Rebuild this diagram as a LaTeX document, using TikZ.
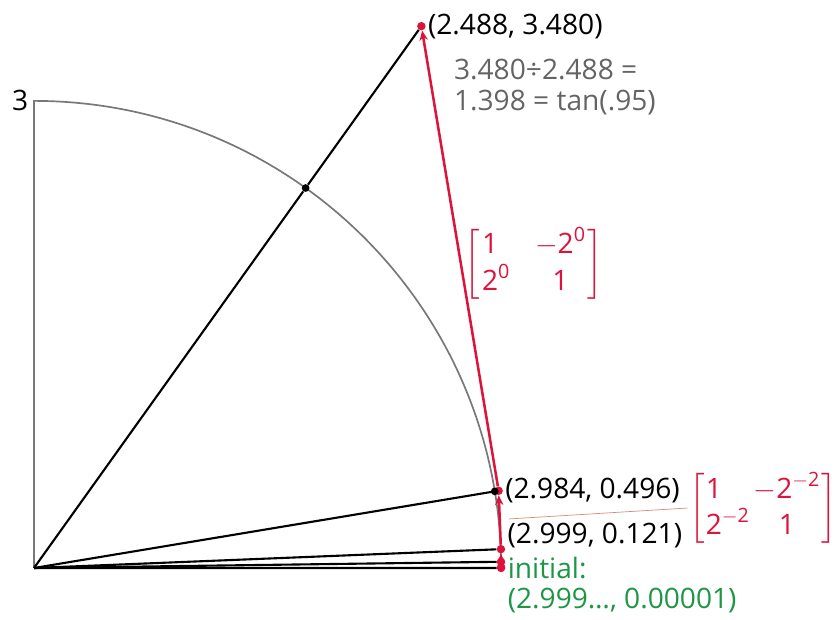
\documentclass[tikz,border=0pt]{standalone}
\usepackage{amsmath}
\usepackage{fontspec}
\setmainfont{Open Sans}
\usepackage{tikz}
\usetikzlibrary{arrows.meta}

\definecolor{rotred}{RGB}{220,20,60}
\definecolor{rotgreen}{RGB}{30,150,70}
\definecolor{txtgray}{RGB}{100,100,100}
\definecolor{arcgray}{RGB}{120,120,120}
\definecolor{linkred}{RGB}{215,140,120}

\begin{document}
\begin{tikzpicture}[x=3.89cm, y=3.89cm,
  every node/.style={font=\fontsize{20}{21.5}\selectfont},
  every label/.style={label distance=-2pt},
  rdot/.style={circle, fill=rotred, inner sep=0pt, minimum size=6pt},
  bdot/.style={circle, fill=black, inner sep=0pt, minimum size=5.5pt},
  ray/.style={black, line width=1.5pt},
  rot/.style={rotred, line width=1.8pt, -{Stealth[length=7pt, width=6pt]}}]
\useasboundingbox (-0.2184,-0.334) rectangle (5.1767,3.648);
\coordinate (O) at (0,0);
% quarter circle of radius 3
\draw[arcgray, line width=1.2pt] (O) -- (0,3) arc[start angle=90, end angle=0, radius=3];
\node[left, inner sep=4pt] (three) at (0,3) {3};
% rotated points
\node[rdot, label={[rotgreen, align=left, yshift=-0.425cm]right:{initial:\\(2.999…, 0.00001)}}] (p0) at (3,0.00001) {};
\node[rdot] (p1) at (2.9995,0.04) {};
\node[rdot, label={[yshift=0.35cm]right:(2.999, 0.121)}] (p2) at (2.999,0.121) {};
\node[rdot, label=right:{(2.984, 0.496)}] (p3) at (2.984,0.496) {};
\node[rdot, label=right:{(2.488, 3.480)}] (p4) at (2.488,3.480) {};
\node[bdot] (hit) at (54.44:3) {};
\node[bdot] (hitb) at (9.44:3) {};
% rays from the origin
\draw[ray] (O) -- (p0);
\draw[ray] (O) -- (p1);
\draw[ray] (O) -- (p2);
\draw[ray] (O) -- (hitb) -- (p3);
\draw[ray] (O) -- (hit) -- (p4);
% rotation steps
\draw[rot] (p0.center) -- (p1.north);
\draw[rot] (p1) -- (p2);
\draw[rot] (p2) -- (p3);
\draw[rot] (p3) -- (p4);
\node[txtgray, align=left, anchor=west] (ratio) at (2.666,3.089) {3.480÷2.488 =\\1.398 = tan(.95)};
\node[rotred, inner sep=2pt] (mzero) at (3.211,1.952)
  {$\arraycolsep=1.5pt\def\arraystretch{1.15}\left[\begin{array}{l@{\hspace{0.62cm}}c}\text{1} & -\text{2}^{\text{0}}\\ \text{2}^{\text{0}} & \text{1}\end{array}\right]$};
\node[rotred, inner sep=1pt] (mtwo) at (4.682,0.385)
  {$\arraycolsep=1pt\left[\begin{array}{l@{\hspace{0.1cm}}c}\text{1} & -\text{2}^{-\text{2}}\\ \text{2}^{-\text{2}} & \text{1}\end{array}\right]$};
\coordinate (cut) at (3.051,0.315);
\draw[linkred, line width=0.5pt] (cut) -- (mtwo.west);
\end{tikzpicture}
\end{document}
